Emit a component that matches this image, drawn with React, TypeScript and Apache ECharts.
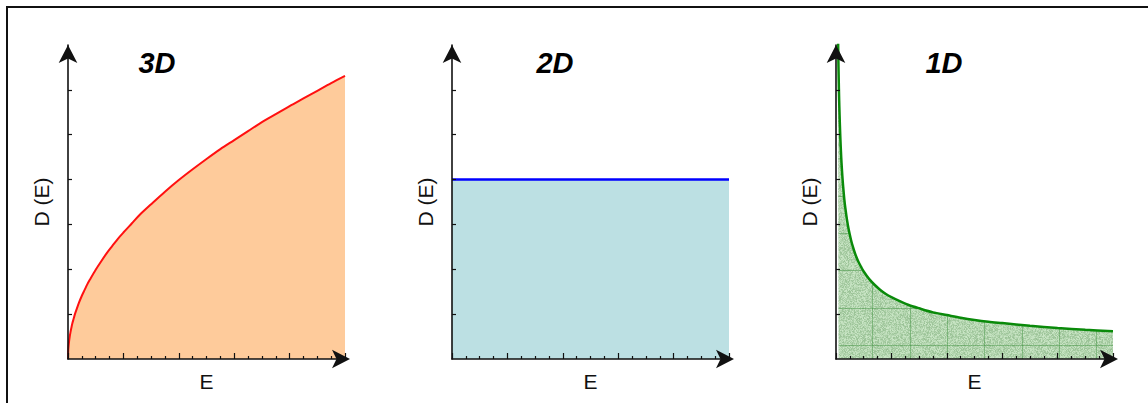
import React, { useEffect, useRef } from "react";
import * as echarts from "echarts";

// ---- data ----
const panelTitles = ["3D", "2D", "1D"];
const xAxisName = "E";
const yAxisName = "D (E)";
const yTickValues = [1, 2, 3, 4, 5, 6];

// 3D: density of states rises like a square root
const energy3D = [0, 0.005, 0.01, 0.02, 0.03, 0.045, 0.06, 0.08, 0.1, 0.125, 0.15, 0.2, 0.25, 0.3, 0.35, 0.4, 0.5, 0.6, 0.7, 0.8, 0.9, 1, 1.15, 1.3, 1.5, 1.75, 2, 2.25, 2.5, 2.75, 3, 3.25, 3.5, 3.75, 4, 4.25, 4.5, 4.75, 5];
const dos3D = [0, 0.2, 0.28, 0.4, 0.49, 0.6, 0.69, 0.8, 0.89, 1.0, 1.09, 1.26, 1.41, 1.54, 1.67, 1.78, 1.99, 2.18, 2.36, 2.52, 2.68, 2.82, 3.02, 3.22, 3.45, 3.73, 3.99, 4.23, 4.46, 4.68, 4.88, 5.08, 5.28, 5.46, 5.64, 5.81, 5.98, 6.15, 6.31];

// 2D: constant
const energy2D = [0, 5];
const dos2D = [4, 4];

// 1D: falls like an inverse square root
const energy1D = [0.035, 0.04, 0.045, 0.05, 0.055, 0.06, 0.07, 0.08, 0.09, 0.1, 0.115, 0.13, 0.15, 0.17, 0.2, 0.23, 0.27, 0.3, 0.35, 0.4, 0.45, 0.5, 0.6, 0.7, 0.8, 0.9, 1, 1.15, 1.3, 1.5, 1.75, 2, 2.25, 2.5, 2.75, 3, 3.5, 4, 4.5, 5];
const dos1D = [7.38, 6.9, 6.51, 6.17, 5.88, 5.63, 5.22, 4.88, 4.6, 4.36, 4.07, 3.83, 3.56, 3.35, 3.09, 2.88, 2.66, 2.52, 2.33, 2.18, 2.06, 1.95, 1.78, 1.65, 1.54, 1.45, 1.38, 1.29, 1.21, 1.13, 1.04, 0.98, 0.92, 0.87, 0.83, 0.8, 0.74, 0.69, 0.65, 0.62];

const FONT = "'Liberation Sans', Arial, Helvetica, sans-serif";

function clamp(v: number) {
  return Math.max(0, Math.min(255, Math.round(v)));
}

// deterministic speckled green texture with a faint grid
function makeTexture(): HTMLCanvasElement {
  const size = 112;
  const c = document.createElement("canvas");
  c.width = size;
  c.height = size;
  const ctx = c.getContext("2d")!;
  const img = ctx.createImageData(size, size);
  for (let y = 0; y < size; y++) {
    for (let x = 0; x < size; x++) {
      let h = (Math.imul(x, 374761393) + Math.imul(y, 668265263)) | 0;
      h = Math.imul(h ^ (h >>> 13), 1274126177);
      h ^= h >>> 16;
      const n = ((h >>> 0) % 1000) / 1000;
      const k = (n - 0.5) * 50;
      const i = (y * size + x) * 4;
      img.data[i] = clamp(178 + k);
      img.data[i + 1] = clamp(212 + k * 0.75);
      img.data[i + 2] = clamp(174 + k);
      img.data[i + 3] = 255;
    }
  }
  ctx.putImageData(img, 0, 0);
  ctx.fillStyle = "rgba(70,150,70,0.5)";
  for (const v of [14, 51, 88]) ctx.fillRect(v, 0, 1, size);
  for (const v of [9, 46, 84]) ctx.fillRect(0, v, size, 1);
  return c;
}

const zip = (xs: number[], ys: number[]) => xs.map((x, i) => [x, ys[i]]);

export default function App() {
  const ref = useRef<HTMLDivElement>(null);

  useEffect(() => {
    if (!ref.current) return;
    const chart = echarts.init(ref.current, null, { renderer: "svg" });
    const texture = makeTexture();

    const lefts = [68, 452, 836];
    const axisColor = "#111";

    const grid = lefts.map((left) => ({ left, top: 45, width: 277, height: 314 }));

    const xAxis = lefts.map((_, i) => ({
      type: "value",
      gridIndex: i,
      min: 0,
      max: 5,
      interval: 1,
      z: 5,
      axisLine: {
        show: true,
        onZero: false,
        lineStyle: { color: axisColor, width: 1.6 },
        symbol: ["none", "arrow"],
        symbolSize: [14, 18],
        symbolOffset: [0, 5],
      },
      axisTick: { show: true, inside: true, length: 6, lineStyle: { color: axisColor, width: 1.2 } },
      minorTick: { show: true, splitNumber: 4, length: 3, lineStyle: { color: axisColor, width: 1.2 } },
      axisLabel: { show: false },
      splitLine: { show: false },
      minorSplitLine: { show: false },
      name: xAxisName,
      nameLocation: "middle",
      nameGap: 12,
      nameTextStyle: { fontSize: 21, color: "#111", fontFamily: FONT },
    }));

    const yAxis = lefts.map((_, i) => ({
      type: "value",
      gridIndex: i,
      min: 0,
      max: 7,
      interval: 1,
      z: 5,
      axisLine: {
        show: true,
        onZero: false,
        lineStyle: { color: axisColor, width: 1.6 },
        symbol: ["none", "arrow"],
        symbolSize: [14, 18],
        symbolOffset: [0, 0],
      },
      axisTick: {
        show: true,
        inside: true,
        length: 4,
        customValues: yTickValues,
        lineStyle: { color: axisColor, width: 1.2 },
      },
      axisLabel: { show: false },
      splitLine: { show: false },
      name: yAxisName,
      nameLocation: "middle",
      nameGap: 16,
      nameTextStyle: { fontSize: 21, color: "#111", fontFamily: FONT },
    }));

    const series = [
      {
        type: "line",
        xAxisIndex: 0,
        yAxisIndex: 0,
        data: zip(energy3D, dos3D),
        showSymbol: false,
        smooth: 0.3,
        lineStyle: { color: "#ff1010", width: 2 },
        areaStyle: { color: "#fecb9b", opacity: 1 },
      },
      {
        type: "line",
        xAxisIndex: 1,
        yAxisIndex: 1,
        data: zip(energy2D, dos2D),
        showSymbol: false,
        lineStyle: { color: "#0000ff", width: 2.5 },
        areaStyle: { color: "#bce0e3", opacity: 1 },
      },
      {
        type: "line",
        xAxisIndex: 2,
        yAxisIndex: 2,
        data: zip(energy1D, dos1D),
        showSymbol: false,
        smooth: 0.3,
        lineStyle: { color: "#0a8a0a", width: 2.5 },
        areaStyle: { color: { image: texture, repeat: "repeat" }, opacity: 1 },
      },
    ];

    const titleCenters = [157, 555, 944];
    const graphic: any[] = [
      {
        type: "rect",
        silent: true,
        shape: { x: 7, y: 7, width: 1200, height: 450 },
        style: { fill: "none", stroke: "#111", lineWidth: 2 },
      },
      ...panelTitles.map((t, i) => ({
        type: "text",
        x: titleCenters[i],
        y: 63,
        silent: true,
        style: {
          text: t,
          fill: "#000",
          font: `italic bold 29px ${FONT}`,
          textAlign: "center",
          textVerticalAlign: "middle",
        },
      })),
    ];

    chart.setOption({
      animation: false,
      backgroundColor: "#fff",
      grid,
      xAxis,
      yAxis,
      series,
      graphic,
    } as any);

    return () => chart.dispose();
  }, []);

  return (
    <div
      ref={ref}
      style={{ position: "fixed", left: 0, top: 0, width: 1148, height: 403 }}
    />
  );
}
